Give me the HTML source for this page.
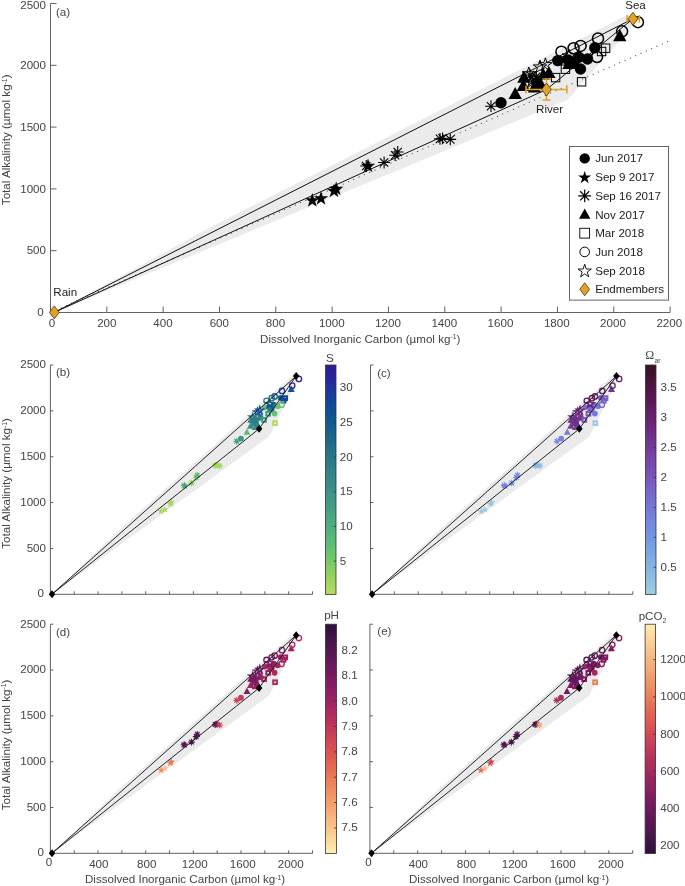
<!DOCTYPE html>
<html><head><meta charset="utf-8"><title>Figure</title>
<style>html,body{margin:0;padding:0;background:#fff}svg{display:block;will-change:transform}text{font-family:"Liberation Sans",sans-serif}</style></head>
<body>
<svg width="685" height="886" viewBox="0 0 685 886" font-family="Liberation Sans, sans-serif" font-size="11.6" fill="#444444">
<defs><linearGradient id="gb" x1="0" y1="1" x2="0" y2="0"><stop offset="0.000" stop-color="#b8db65"/><stop offset="0.042" stop-color="#a5d75d"/><stop offset="0.083" stop-color="#92d160"/><stop offset="0.125" stop-color="#80cc65"/><stop offset="0.167" stop-color="#6ec66b"/><stop offset="0.208" stop-color="#63be72"/><stop offset="0.250" stop-color="#58b778"/><stop offset="0.292" stop-color="#4faf7d"/><stop offset="0.333" stop-color="#49a781"/><stop offset="0.375" stop-color="#439f84"/><stop offset="0.417" stop-color="#3e9886"/><stop offset="0.458" stop-color="#3a9087"/><stop offset="0.500" stop-color="#358888"/><stop offset="0.542" stop-color="#308188"/><stop offset="0.583" stop-color="#2a7989"/><stop offset="0.625" stop-color="#24728a"/><stop offset="0.667" stop-color="#1c6a8b"/><stop offset="0.708" stop-color="#15628d"/><stop offset="0.750" stop-color="#115a90"/><stop offset="0.792" stop-color="#105195"/><stop offset="0.833" stop-color="#0f4899"/><stop offset="0.875" stop-color="#183b9b"/><stop offset="0.917" stop-color="#222e9e"/><stop offset="0.958" stop-color="#2a229c"/><stop offset="1.000" stop-color="#2a1e88"/></linearGradient><linearGradient id="gc" x1="0" y1="1" x2="0" y2="0"><stop offset="0.000" stop-color="#a1cce2"/><stop offset="0.042" stop-color="#95c4e2"/><stop offset="0.083" stop-color="#8bbce3"/><stop offset="0.125" stop-color="#81b4e3"/><stop offset="0.167" stop-color="#7caae3"/><stop offset="0.208" stop-color="#77a1e4"/><stop offset="0.250" stop-color="#7397e3"/><stop offset="0.292" stop-color="#748ce0"/><stop offset="0.333" stop-color="#7582de"/><stop offset="0.375" stop-color="#7678d8"/><stop offset="0.417" stop-color="#776ed1"/><stop offset="0.458" stop-color="#7864ca"/><stop offset="0.500" stop-color="#785ac0"/><stop offset="0.542" stop-color="#7750b6"/><stop offset="0.583" stop-color="#7647ab"/><stop offset="0.625" stop-color="#743e9e"/><stop offset="0.667" stop-color="#723591"/><stop offset="0.708" stop-color="#6e2d83"/><stop offset="0.750" stop-color="#692676"/><stop offset="0.792" stop-color="#641f68"/><stop offset="0.833" stop-color="#5c1b59"/><stop offset="0.875" stop-color="#55174b"/><stop offset="0.917" stop-color="#4c133e"/><stop offset="0.958" stop-color="#431133"/><stop offset="1.000" stop-color="#390f27"/></linearGradient><linearGradient id="gd" x1="0" y1="1" x2="0" y2="0"><stop offset="0.000" stop-color="#fdedb0"/><stop offset="0.042" stop-color="#fcdea2"/><stop offset="0.083" stop-color="#fad094"/><stop offset="0.125" stop-color="#f8c187"/><stop offset="0.167" stop-color="#f7b27b"/><stop offset="0.208" stop-color="#f4a471"/><stop offset="0.250" stop-color="#f29667"/><stop offset="0.292" stop-color="#ee875f"/><stop offset="0.333" stop-color="#ea7859"/><stop offset="0.375" stop-color="#e56954"/><stop offset="0.417" stop-color="#de5c53"/><stop offset="0.458" stop-color="#d74f53"/><stop offset="0.500" stop-color="#ce4456"/><stop offset="0.542" stop-color="#c4395a"/><stop offset="0.583" stop-color="#b8315c"/><stop offset="0.625" stop-color="#ab2a5f"/><stop offset="0.667" stop-color="#9e2461"/><stop offset="0.708" stop-color="#901f62"/><stop offset="0.750" stop-color="#821c62"/><stop offset="0.792" stop-color="#74195f"/><stop offset="0.833" stop-color="#66175b"/><stop offset="0.875" stop-color="#581655"/><stop offset="0.917" stop-color="#4a154e"/><stop offset="0.958" stop-color="#3c1246"/><stop offset="1.000" stop-color="#2f0f3d"/></linearGradient><linearGradient id="ge" x1="0" y1="1" x2="0" y2="0"><stop offset="0.000" stop-color="#2f0f3d"/><stop offset="0.042" stop-color="#3c1246"/><stop offset="0.083" stop-color="#4a154e"/><stop offset="0.125" stop-color="#581655"/><stop offset="0.167" stop-color="#66175b"/><stop offset="0.208" stop-color="#74195f"/><stop offset="0.250" stop-color="#821c62"/><stop offset="0.292" stop-color="#901f62"/><stop offset="0.333" stop-color="#9e2461"/><stop offset="0.375" stop-color="#ab2a5f"/><stop offset="0.417" stop-color="#b8315c"/><stop offset="0.458" stop-color="#c4395a"/><stop offset="0.500" stop-color="#ce4456"/><stop offset="0.542" stop-color="#d74f53"/><stop offset="0.583" stop-color="#de5c53"/><stop offset="0.625" stop-color="#e56954"/><stop offset="0.667" stop-color="#ea7859"/><stop offset="0.708" stop-color="#ee875f"/><stop offset="0.750" stop-color="#f29667"/><stop offset="0.792" stop-color="#f4a471"/><stop offset="0.833" stop-color="#f7b27b"/><stop offset="0.875" stop-color="#f8c187"/><stop offset="0.917" stop-color="#fad094"/><stop offset="0.958" stop-color="#fcdea2"/><stop offset="1.000" stop-color="#fdedb0"/></linearGradient></defs>
<rect width="685" height="886" fill="#fff"/>
<polygon points="54.3,312.4 210.0,227.5 627.0,15.3 639.3,18.8 567.3,100.0" fill="#ebebeb"/>
<line x1="50.5" y1="312.5" x2="670.1" y2="40.6" stroke="#333" stroke-width="1.1" stroke-linecap="round" stroke-dasharray="0.01 5.8"/>
<path d="M54.3,312.4 L632.9,18.8 M54.3,312.4 L546.5,89.5 L632.9,18.8" fill="none" stroke="#111" stroke-width="1.0"/>
<path d="M50.5,3.5 L50.5,312.5 L670.1,312.5" fill="none" stroke="#505050" stroke-width="0.9"/>
<path d="M50.50,312.5 v-6 M106.83,312.5 v-6 M163.15,312.5 v-6 M219.48,312.5 v-6 M275.81,312.5 v-6 M332.14,312.5 v-6 M388.46,312.5 v-6 M444.79,312.5 v-6 M501.12,312.5 v-6 M557.45,312.5 v-6 M613.77,312.5 v-6 M670.10,312.5 v-6 M50.5,312.50 h6 M50.5,250.70 h6 M50.5,188.90 h6 M50.5,127.10 h6 M50.5,65.30 h6 M50.5,3.50 h6 " stroke="#505050" stroke-width="0.9" fill="none"/>
<text x="52.1" y="327.3" text-anchor="middle">0</text>
<text x="106.8" y="327.3" text-anchor="middle">200</text>
<text x="163.0" y="327.3" text-anchor="middle">400</text>
<text x="219.3" y="327.3" text-anchor="middle">600</text>
<text x="275.5" y="327.3" text-anchor="middle">800</text>
<text x="331.8" y="327.3" text-anchor="middle">1000</text>
<text x="388.0" y="327.3" text-anchor="middle">1200</text>
<text x="444.3" y="327.3" text-anchor="middle">1400</text>
<text x="500.5" y="327.3" text-anchor="middle">1600</text>
<text x="556.8" y="327.3" text-anchor="middle">1800</text>
<text x="613.0" y="327.3" text-anchor="middle">2000</text>
<text x="669.3" y="327.3" text-anchor="middle">2200</text>
<text x="43.6" y="316.1" text-anchor="end">0</text>
<text x="46.0" y="254.3" text-anchor="end">500</text>
<text x="46.0" y="192.5" text-anchor="end">1000</text>
<text x="46.0" y="130.7" text-anchor="end">1500</text>
<text x="46.0" y="68.9" text-anchor="end">2000</text>
<text x="46.0" y="9.1" text-anchor="end">2500</text>
<text transform="translate(10.4,139.8) rotate(-90)" text-anchor="middle">Total Alkalinity (µmol kg<tspan font-size="6.8" dy="-3.6">-1</tspan><tspan dy="3.6">)</tspan></text>
<text x="360.2" y="342.6" text-anchor="middle">Dissolved Inorganic Carbon (µmol kg<tspan font-size="6.8" dy="-3.6">-1</tspan><tspan dy="3.6">)</tspan></text>
<text x="56.0" y="16.4">(a)</text>
<path d="M360.30,166.00 L372.10,166.00 M362.03,161.83 L370.37,170.17 M366.20,160.10 L366.20,171.90 M370.37,161.83 L362.03,170.17 " fill="none" stroke="#000" stroke-width="1.1"/>
<path d="M378.20,162.50 L390.00,162.50 M379.93,158.33 L388.27,166.67 M384.10,156.60 L384.10,168.40 M388.27,158.33 L379.93,166.67 " fill="none" stroke="#000" stroke-width="1.1"/>
<path d="M389.20,155.20 L401.00,155.20 M390.93,151.03 L399.27,159.37 M395.10,149.30 L395.10,161.10 M399.27,151.03 L390.93,159.37 " fill="none" stroke="#000" stroke-width="1.1"/>
<path d="M391.80,152.00 L403.60,152.00 M393.53,147.83 L401.87,156.17 M397.70,146.10 L397.70,157.90 M401.87,147.83 L393.53,156.17 " fill="none" stroke="#000" stroke-width="1.1"/>
<path d="M434.10,138.90 L445.90,138.90 M435.83,134.73 L444.17,143.07 M440.00,133.00 L440.00,144.80 M444.17,134.73 L435.83,143.07 " fill="none" stroke="#000" stroke-width="1.1"/>
<path d="M436.60,138.30 L448.40,138.30 M438.33,134.13 L446.67,142.47 M442.50,132.40 L442.50,144.20 M446.67,134.13 L438.33,142.47 " fill="none" stroke="#000" stroke-width="1.1"/>
<path d="M444.40,139.40 L456.20,139.40 M446.13,135.23 L454.47,143.57 M450.30,133.50 L450.30,145.30 M454.47,135.23 L446.13,143.57 " fill="none" stroke="#000" stroke-width="1.1"/>
<path d="M485.10,106.20 L496.90,106.20 M486.83,102.03 L495.17,110.37 M491.00,100.30 L491.00,112.10 M495.17,102.03 L486.83,110.37 " fill="none" stroke="#000" stroke-width="1.1"/>
<path d="M524.00,75.00 L535.80,75.00 M525.73,70.83 L534.07,79.17 M529.90,69.10 L529.90,80.90 M534.07,70.83 L525.73,79.17 " fill="none" stroke="#000" stroke-width="1.1"/>
<path d="M526.70,81.20 L538.50,81.20 M528.43,77.03 L536.77,85.37 M532.60,75.30 L532.60,87.10 M536.77,77.03 L528.43,85.37 " fill="none" stroke="#000" stroke-width="1.1"/>
<path d="M530.10,76.80 L541.90,76.80 M531.83,72.63 L540.17,80.97 M536.00,70.90 L536.00,82.70 M540.17,72.63 L531.83,80.97 " fill="none" stroke="#000" stroke-width="1.1"/>
<path d="M312.30,193.00L314.01,198.25L319.53,198.25L315.06,201.50L316.77,206.75L312.30,203.50L307.83,206.75L309.54,201.50L305.07,198.25L310.59,198.25Z" fill="#000"/>
<path d="M321.00,190.90L322.71,196.15L328.23,196.15L323.76,199.40L325.47,204.65L321.00,201.40L316.53,204.65L318.24,199.40L313.77,196.15L319.29,196.15Z" fill="#000"/>
<path d="M334.00,183.40L335.71,188.65L341.23,188.65L336.76,191.90L338.47,197.15L334.00,193.90L329.53,197.15L331.24,191.90L326.77,188.65L332.29,188.65Z" fill="#000"/>
<path d="M336.20,181.40L337.91,186.65L343.43,186.65L338.96,189.90L340.67,195.15L336.20,191.90L331.73,195.15L333.44,189.90L328.97,186.65L334.49,186.65Z" fill="#000"/>
<path d="M368.00,158.60L369.71,163.85L375.23,163.85L370.76,167.10L372.47,172.35L368.00,169.10L363.53,172.35L365.24,167.10L360.77,163.85L366.29,163.85Z" fill="#000"/>
<path d="M515.20,86.92 L521.85,99.12 L508.55,99.12 Z" fill="#000"/>
<path d="M523.90,70.52 L530.55,82.72 L517.25,82.72 Z" fill="#000"/>
<path d="M523.40,78.72 L530.05,90.92 L516.75,90.92 Z" fill="#000"/>
<path d="M543.30,67.92 L549.95,80.12 L536.65,80.12 Z" fill="#000"/>
<path d="M548.90,65.92 L555.55,78.12 L542.25,78.12 Z" fill="#000"/>
<path d="M541.00,77.92 L547.65,90.12 L534.35,90.12 Z" fill="#000"/>
<path d="M534.50,80.42 L541.15,92.62 L527.85,92.62 Z" fill="#000"/>
<path d="M537.50,74.92 L544.15,87.12 L530.85,87.12 Z" fill="#000"/>
<path d="M568.90,56.92 L575.55,69.12 L562.25,69.12 Z" fill="#000"/>
<path d="M619.80,29.12 L626.45,41.32 L613.15,41.32 Z" fill="#000"/>
<circle cx="501.00" cy="102.70" r="5.7" fill="#000"/>
<circle cx="557.80" cy="60.60" r="5.7" fill="#000"/>
<circle cx="578.80" cy="57.10" r="5.7" fill="#000"/>
<circle cx="587.50" cy="59.00" r="5.7" fill="#000"/>
<circle cx="580.50" cy="69.00" r="5.7" fill="#000"/>
<circle cx="573.80" cy="62.50" r="5.7" fill="#000"/>
<circle cx="594.80" cy="47.80" r="5.7" fill="#000"/>
<circle cx="568.00" cy="60.00" r="5.7" fill="#000"/>
<rect x="551.40" y="73.40" width="8.4" height="8.4" fill="none" stroke="#000" stroke-width="1"/>
<rect x="561.20" y="65.00" width="8.4" height="8.4" fill="none" stroke="#000" stroke-width="1"/>
<rect x="577.40" y="77.60" width="8.4" height="8.4" fill="none" stroke="#000" stroke-width="1"/>
<rect x="601.40" y="44.00" width="8.4" height="8.4" fill="none" stroke="#000" stroke-width="1"/>
<rect x="597.40" y="47.30" width="8.4" height="8.4" fill="none" stroke="#000" stroke-width="1"/>
<circle cx="637.90" cy="22.20" r="5.5" fill="none" stroke="#000" stroke-width="1.5"/>
<circle cx="622.10" cy="31.30" r="5.5" fill="none" stroke="#000" stroke-width="1.5"/>
<circle cx="598.00" cy="38.50" r="5.5" fill="none" stroke="#000" stroke-width="1.5"/>
<circle cx="580.60" cy="45.90" r="5.5" fill="none" stroke="#000" stroke-width="1.5"/>
<circle cx="573.60" cy="48.20" r="5.5" fill="none" stroke="#000" stroke-width="1.5"/>
<circle cx="561.40" cy="51.70" r="5.5" fill="none" stroke="#000" stroke-width="1.5"/>
<circle cx="597.00" cy="57.00" r="5.5" fill="none" stroke="#000" stroke-width="1.5"/>
<path d="M545.40,57.80L546.97,62.64L552.06,62.64L547.94,65.63L549.51,70.46L545.40,67.47L541.29,70.46L542.86,65.63L538.74,62.64L543.83,62.64Z" fill="none" stroke="#000" stroke-width="1"/>
<path d="M569.00,49.10L570.57,53.94L575.66,53.94L571.54,56.93L573.11,61.76L569.00,58.77L564.89,61.76L566.46,56.93L562.34,53.94L567.43,53.94Z" fill="none" stroke="#000" stroke-width="1"/>
<path d="M540.00,60.10L541.57,64.94L546.66,64.94L542.54,67.93L544.11,72.76L540.00,69.77L535.89,72.76L537.46,67.93L533.34,64.94L538.43,64.94Z" fill="none" stroke="#000" stroke-width="1"/>
<path d="M528.80,67.00L530.37,71.84L535.46,71.84L531.34,74.83L532.91,79.66L528.80,76.67L524.69,79.66L526.26,74.83L522.14,71.84L527.23,71.84Z" fill="none" stroke="#000" stroke-width="1"/>
<path d="M531.60,75.00L533.17,79.84L538.26,79.84L534.14,82.83L535.71,87.66L531.60,84.67L527.49,87.66L529.06,82.83L524.94,79.84L530.03,79.84Z" fill="none" stroke="#000" stroke-width="1"/>
<path d="M535.50,71.00L537.07,75.84L542.16,75.84L538.04,78.83L539.61,83.66L535.50,80.67L531.39,83.66L532.96,78.83L528.84,75.84L533.93,75.84Z" fill="none" stroke="#000" stroke-width="1"/>
<path d="M627.0,18.8 L639.3,18.8 M627.0,14.9 v7.8 M639.3,14.9 v7.8 " fill="none" stroke="#e2a227" stroke-width="1.5"/>
<path d="M526.0,89.5 L566.9,89.5 M526.0,85.4 v8.2 M566.9,85.4 v8.2 M546.5,79.1 L546.5,99.9 M542.4,79.1 h8.2 M542.4,99.9 h8.2 " fill="none" stroke="#e2a227" stroke-width="1.5"/>
<path d="M632.90,12.30 L637.80,18.80 L632.90,25.30 L628.00,18.80 Z" fill="#e2a227" stroke="#4a3a12" stroke-width="0.8"/>
<path d="M546.50,83.00 L551.40,89.50 L546.50,96.00 L541.60,89.50 Z" fill="#e2a227" stroke="#4a3a12" stroke-width="0.8"/>
<path d="M54.30,305.90 L59.20,312.40 L54.30,318.90 L49.40,312.40 Z" fill="#e2a227" stroke="#4a3a12" stroke-width="0.8"/>
<text x="635.5" y="8.6" text-anchor="middle" fill="#222">Sea</text>
<text x="549.6" y="112.6" text-anchor="middle" fill="#222">River</text>
<text x="53.3" y="296.3" fill="#222">Rain</text>
<rect x="569.5" y="146.5" width="99" height="153.6" fill="#fff" stroke="#555" stroke-width="0.9"/>
<circle cx="584.7" cy="158.4" r="5.2" fill="#000"/>
<text x="595.2" y="162.4" fill="#1c1c1c">Jun 2017</text>
<path d="M584.70,170.90L586.23,175.60L591.17,175.60L587.17,178.50L588.70,183.20L584.70,180.30L580.70,183.20L582.23,178.50L578.23,175.60L583.17,175.60Z" fill="#000"/>
<text x="595.2" y="181.1" fill="#1c1c1c">Sep 9 2017</text>
<path d="M578.30,195.80 L591.10,195.80 M580.17,191.27 L589.23,200.33 M584.70,189.40 L584.70,202.20 M589.23,191.27 L580.17,200.33 " fill="none" stroke="#000" stroke-width="1.2"/>
<text x="595.2" y="199.8" fill="#1c1c1c">Sep 16 2017</text>
<path d="M584.70,208.47 L590.40,218.87 L579.00,218.87 Z" fill="#000"/>
<text x="595.2" y="218.5" fill="#1c1c1c">Nov 2017</text>
<rect x="579.8" y="228.3" width="9.8" height="9.8" fill="none" stroke="#000" stroke-width="0.9"/>
<text x="595.2" y="237.2" fill="#1c1c1c">Mar 2018</text>
<circle cx="584.7" cy="251.9" r="4.8" fill="none" stroke="#000" stroke-width="1"/>
<text x="595.2" y="255.9" fill="#1c1c1c">Jun 2018</text>
<path d="M584.70,264.20L586.27,269.04L591.36,269.04L587.24,272.03L588.81,276.86L584.70,273.87L580.59,276.86L582.16,272.03L578.04,269.04L583.13,269.04Z" fill="none" stroke="#000" stroke-width="0.9"/>
<text x="595.2" y="274.6" fill="#1c1c1c">Sep 2018</text>
<path d="M584.70,282.80 L589.60,289.30 L584.70,295.80 L579.80,289.30 Z" fill="#e2a227" stroke="#4a3a12" stroke-width="0.8"/>
<text x="595.2" y="293.3" fill="#1c1c1c">Endmembers</text>
<polygon points="52.0,594.2 117.9,531.2 294.3,373.8 299.5,376.4 269.0,436.6" fill="#ebebeb"/>
<path d="M50.4,365.0 L50.4,594.3 L312.5,594.3" fill="none" stroke="#505050" stroke-width="0.9"/>
<path d="M50.40,594.3 v-3 M74.23,594.3 v-3 M98.05,594.3 v-3 M121.88,594.3 v-3 M145.71,594.3 v-3 M169.54,594.3 v-3 M193.36,594.3 v-3 M217.19,594.3 v-3 M241.02,594.3 v-3 M264.85,594.3 v-3 M288.67,594.3 v-3 M312.50,594.3 v-3 M50.4,594.30 h3 M50.4,548.44 h3 M50.4,502.58 h3 M50.4,456.72 h3 M50.4,410.86 h3 M50.4,365.00 h3 " stroke="#505050" stroke-width="0.9" fill="none"/>
<text x="44.0" y="597.1" text-anchor="end">0</text>
<text x="46.0" y="551.8" text-anchor="end">500</text>
<text x="46.0" y="506.0" text-anchor="end">1000</text>
<text x="46.0" y="460.1" text-anchor="end">1500</text>
<text x="46.0" y="414.3" text-anchor="end">2000</text>
<text x="46.0" y="368.4" text-anchor="end">2500</text>
<text transform="translate(10.4,483.4) rotate(-90)" text-anchor="middle">Total Alkalinity (µmol kg<tspan font-size="6.8" dy="-3.6">-1</tspan><tspan dy="3.6">)</tspan></text>
<text x="56.0" y="376.3">(b)</text>
<path d="M180.65,485.59 L187.25,485.59 M181.61,483.25 L186.28,487.92 M183.95,482.29 L183.95,488.89 M186.28,483.25 L181.61,487.92 " fill="none" stroke="#78c968" stroke-width="1.1"/>
<path d="M188.22,482.99 L194.82,482.99 M189.18,480.66 L193.85,485.32 M191.52,479.69 L191.52,486.29 M193.85,480.66 L189.18,485.32 " fill="none" stroke="#8bcf62" stroke-width="1.1"/>
<path d="M192.87,477.57 L199.47,477.57 M193.84,475.24 L198.50,479.91 M196.17,474.27 L196.17,480.87 M198.50,475.24 L193.84,479.91 " fill="none" stroke="#85cd64" stroke-width="1.1"/>
<path d="M193.97,475.20 L200.57,475.20 M194.94,472.86 L199.60,477.53 M197.27,471.90 L197.27,478.50 M199.60,472.86 L194.94,477.53 " fill="none" stroke="#59b778" stroke-width="1.1"/>
<path d="M211.86,465.48 L218.46,465.48 M212.83,463.14 L217.50,467.81 M215.16,462.18 L215.16,468.78 M217.50,463.14 L212.83,467.81 " fill="none" stroke="#a6d75d" stroke-width="1.1"/>
<path d="M212.92,465.03 L219.52,465.03 M213.89,462.70 L218.56,467.36 M216.22,461.73 L216.22,468.33 M218.56,462.70 L213.89,467.36 " fill="none" stroke="#a6d75d" stroke-width="1.1"/>
<path d="M216.22,465.85 L222.82,465.85 M217.19,463.51 L221.85,468.18 M219.52,462.55 L219.52,469.15 M221.85,463.51 L217.19,468.18 " fill="none" stroke="#a6d75d" stroke-width="1.1"/>
<path d="M233.44,441.21 L240.04,441.21 M234.40,438.88 L239.07,443.54 M236.74,437.91 L236.74,444.51 M239.07,438.88 L234.40,443.54 " fill="none" stroke="#429d84" stroke-width="1.1"/>
<path d="M249.89,418.06 L256.49,418.06 M250.86,415.72 L255.53,420.39 M253.19,414.76 L253.19,421.36 M255.53,415.72 L250.86,420.39 " fill="none" stroke="#378c87" stroke-width="1.1"/>
<path d="M251.04,422.66 L257.64,422.66 M252.00,420.33 L256.67,424.99 M254.34,419.36 L254.34,425.96 M256.67,420.33 L252.00,424.99 " fill="none" stroke="#378c87" stroke-width="1.1"/>
<path d="M252.47,419.39 L259.07,419.39 M253.44,417.06 L258.11,421.73 M255.77,416.09 L255.77,422.69 M258.11,417.06 L253.44,421.73 " fill="none" stroke="#348788" stroke-width="1.1"/>
<path d="M161.15,507.19L162.04,509.96L164.95,509.96L162.60,511.66L163.50,514.43L161.15,512.72L158.79,514.43L159.69,511.66L157.34,509.96L160.25,509.96Z" fill="#add960"/>
<path d="M164.83,505.63L165.72,508.40L168.63,508.40L166.28,510.11L167.18,512.87L164.83,511.16L162.47,512.87L163.37,510.11L161.02,508.40L163.93,508.40Z" fill="#add960"/>
<path d="M170.32,500.07L171.22,502.83L174.13,502.83L171.78,504.54L172.68,507.30L170.32,505.60L167.97,507.30L168.87,504.54L166.52,502.83L169.43,502.83Z" fill="#a6d75d"/>
<path d="M171.26,498.58L172.15,501.35L175.06,501.35L172.71,503.06L173.61,505.82L171.26,504.11L168.90,505.82L169.80,503.06L167.45,501.35L170.36,501.35Z" fill="#a6d75d"/>
<path d="M184.71,481.66L185.61,484.43L188.51,484.43L186.16,486.14L187.06,488.90L184.71,487.19L182.36,488.90L183.25,486.14L180.90,484.43L183.81,484.43Z" fill="#429e84"/>
<path d="M246.98,428.45 L250.48,434.85 L243.48,434.85 Z" fill="#5cb976"/>
<path d="M250.66,416.28 L254.16,422.68 L247.16,422.68 Z" fill="#3b9287"/>
<path d="M250.44,422.36 L253.94,428.76 L246.94,428.76 Z" fill="#3b9287"/>
<path d="M258.86,414.35 L262.36,420.75 L255.36,420.75 Z" fill="#378c87"/>
<path d="M261.23,412.86 L264.73,419.26 L257.73,419.26 Z" fill="#348788"/>
<path d="M257.89,421.77 L261.39,428.17 L254.39,428.17 Z" fill="#378c87"/>
<path d="M255.14,423.62 L258.64,430.02 L251.64,430.02 Z" fill="#3b9287"/>
<path d="M256.41,419.54 L259.91,425.94 L252.91,425.94 Z" fill="#378c87"/>
<path d="M269.69,406.18 L273.19,412.58 L266.19,412.58 Z" fill="#348788"/>
<path d="M291.22,385.55 L294.72,391.95 L287.72,391.95 Z" fill="#115393"/>
<circle cx="240.97" cy="438.61" r="2.9" fill="#3e9886"/>
<circle cx="265.00" cy="407.37" r="2.9" fill="#68c16f"/>
<circle cx="273.88" cy="404.78" r="2.9" fill="#1e6b8b"/>
<circle cx="277.56" cy="406.18" r="2.9" fill="#68c16f"/>
<circle cx="274.60" cy="413.61" r="2.9" fill="#68c16f"/>
<circle cx="271.76" cy="408.78" r="2.9" fill="#287789"/>
<circle cx="280.65" cy="397.87" r="2.9" fill="#14608e"/>
<circle cx="269.31" cy="406.93" r="2.9" fill="#23718a"/>
<rect x="262.21" y="418.14" width="3.7" height="3.7" fill="none" stroke="#429d84" stroke-width="2.0"/>
<rect x="266.36" y="411.90" width="3.7" height="3.7" fill="none" stroke="#3e9886" stroke-width="2.0"/>
<rect x="273.21" y="421.25" width="3.7" height="3.7" fill="none" stroke="#b7db64" stroke-width="2.0"/>
<rect x="283.37" y="396.32" width="3.7" height="3.7" fill="none" stroke="#14419a" stroke-width="2.0"/>
<rect x="281.67" y="398.77" width="3.7" height="3.7" fill="none" stroke="#114699" stroke-width="2.0"/>
<circle cx="298.88" cy="378.88" r="2.7" fill="none" stroke="#2a229b" stroke-width="1.3"/>
<circle cx="292.20" cy="385.63" r="2.7" fill="none" stroke="#252a9d" stroke-width="1.3"/>
<circle cx="282.00" cy="390.97" r="2.7" fill="none" stroke="#173c9b" stroke-width="1.3"/>
<circle cx="274.64" cy="396.46" r="2.7" fill="none" stroke="#14608e" stroke-width="1.3"/>
<circle cx="271.68" cy="398.17" r="2.7" fill="none" stroke="#1e6b8b" stroke-width="1.3"/>
<circle cx="266.52" cy="400.77" r="2.7" fill="none" stroke="#2c7c89" stroke-width="1.3"/>
<circle cx="281.58" cy="404.70" r="2.7" fill="none" stroke="#64bf71" stroke-width="1.3"/>
<path d="M259.75,406.22L260.69,409.12L263.74,409.12L261.28,410.91L262.22,413.82L259.75,412.02L257.28,413.82L258.22,410.91L255.76,409.12L258.81,409.12Z" fill="none" stroke="#115393" stroke-width="1.2"/>
<path d="M269.73,399.76L270.68,402.66L273.73,402.66L271.26,404.46L272.20,407.36L269.73,405.57L267.26,407.36L268.21,404.46L265.74,402.66L268.79,402.66Z" fill="none" stroke="#115393" stroke-width="1.2"/>
<path d="M257.47,407.92L258.41,410.83L261.46,410.83L258.99,412.62L259.93,415.52L257.47,413.73L255.00,415.52L255.94,412.62L253.47,410.83L256.52,410.83Z" fill="none" stroke="#115393" stroke-width="1.2"/>
<path d="M252.73,413.04L253.67,415.95L256.72,415.95L254.25,417.74L255.20,420.64L252.73,418.85L250.26,420.64L251.20,417.74L248.73,415.95L251.78,415.95Z" fill="none" stroke="#308188" stroke-width="1.2"/>
<path d="M253.91,418.98L254.86,421.88L257.91,421.88L255.44,423.68L256.38,426.58L253.91,424.79L251.44,426.58L252.39,423.68L249.92,421.88L252.97,421.88Z" fill="none" stroke="#308188" stroke-width="1.2"/>
<path d="M255.56,416.01L256.51,418.92L259.56,418.92L257.09,420.71L258.03,423.61L255.56,421.82L253.09,423.61L254.04,420.71L251.57,418.92L254.62,418.92Z" fill="none" stroke="#2c7c89" stroke-width="1.2"/>
<path d="M52.0,594.2 L296.2,376.1 M52.0,594.2 L259.1,428.8 L296.2,376.1" fill="none" stroke="#1a1a1a" stroke-width="0.95"/>
<path d="M52.01,590.23 L55.26,594.23 L52.01,598.23 L48.76,594.23 Z" fill="#000"/>
<path d="M296.16,372.05 L299.41,376.05 L296.16,380.05 L292.91,376.05 Z" fill="#000"/>
<path d="M259.12,424.82 L262.37,428.82 L259.12,432.82 L255.87,428.82 Z" fill="#000"/>
<rect x="325.5" y="365.0" width="10.5" height="229.5" fill="url(#gb)" stroke="#333" stroke-width="0.8"/>
<text x="339.7" y="564.5">5</text>
<text x="339.7" y="529.9">10</text>
<text x="339.7" y="495.2">15</text>
<text x="339.7" y="460.6">20</text>
<text x="339.7" y="425.9">25</text>
<text x="339.7" y="391.3">30</text>
<path d="M336.0,561.11 h-2.4 M336.0,526.46 h-2.4 M336.0,491.81 h-2.4 M336.0,457.16 h-2.4 M336.0,422.52 h-2.4 M336.0,387.87 h-2.4 " stroke="#333" stroke-width="0.8" fill="none"/>
<text x="329.8" y="361.9" text-anchor="middle">S</text>
<polygon points="372.1,594.2 438.0,531.2 614.6,373.8 619.8,376.4 589.3,436.6" fill="#ebebeb"/>
<path d="M370.5,365.0 L370.5,594.3 L632.8,594.3" fill="none" stroke="#505050" stroke-width="0.9"/>
<path d="M370.50,594.3 v-3 M394.35,594.3 v-3 M418.19,594.3 v-3 M442.04,594.3 v-3 M465.88,594.3 v-3 M489.73,594.3 v-3 M513.57,594.3 v-3 M537.42,594.3 v-3 M561.26,594.3 v-3 M585.11,594.3 v-3 M608.95,594.3 v-3 M632.80,594.3 v-3 M370.5,594.30 h3 M370.5,548.44 h3 M370.5,502.58 h3 M370.5,456.72 h3 M370.5,410.86 h3 M370.5,365.00 h3 " stroke="#505050" stroke-width="0.9" fill="none"/>
<text x="377.2" y="376.7">(c)</text>
<path d="M500.85,485.59 L507.45,485.59 M501.81,483.25 L506.48,487.92 M504.15,482.29 L504.15,488.89 M506.48,483.25 L501.81,487.92 " fill="none" stroke="#7491e2" stroke-width="1.1"/>
<path d="M508.43,482.99 L515.03,482.99 M509.39,480.66 L514.06,485.32 M511.73,479.69 L511.73,486.29 M514.06,480.66 L509.39,485.32 " fill="none" stroke="#7491e2" stroke-width="1.1"/>
<path d="M513.08,477.57 L519.68,477.57 M514.05,475.24 L518.72,479.91 M516.38,474.27 L516.38,480.87 M518.72,475.24 L514.05,479.91 " fill="none" stroke="#748ae0" stroke-width="1.1"/>
<path d="M514.18,475.20 L520.78,475.20 M515.15,472.86 L519.82,477.53 M517.48,471.90 L517.48,478.50 M519.82,472.86 L515.15,477.53 " fill="none" stroke="#748ae0" stroke-width="1.1"/>
<path d="M532.09,465.48 L538.69,465.48 M533.06,463.14 L537.72,467.81 M535.39,462.18 L535.39,468.78 M537.72,463.14 L533.06,467.81 " fill="none" stroke="#89bae3" stroke-width="1.1"/>
<path d="M533.15,465.03 L539.75,465.03 M534.11,462.70 L538.78,467.36 M536.45,461.73 L536.45,468.33 M538.78,462.70 L534.11,467.36 " fill="none" stroke="#89bae3" stroke-width="1.1"/>
<path d="M536.45,465.85 L543.05,465.85 M537.42,463.51 L542.08,468.18 M539.75,462.55 L539.75,469.15 M542.08,463.51 L537.42,468.18 " fill="none" stroke="#8cbde3" stroke-width="1.1"/>
<path d="M553.68,441.21 L560.28,441.21 M554.65,438.88 L559.31,443.54 M556.98,437.91 L556.98,444.51 M559.31,438.88 L554.65,443.54 " fill="none" stroke="#748ae0" stroke-width="1.1"/>
<path d="M570.15,418.06 L576.75,418.06 M571.11,415.72 L575.78,420.39 M573.45,414.76 L573.45,421.36 M575.78,415.72 L571.11,420.39 " fill="none" stroke="#7540a1" stroke-width="1.1"/>
<path d="M571.29,422.66 L577.89,422.66 M572.26,420.33 L576.92,424.99 M574.59,419.36 L574.59,425.96 M576.92,420.33 L572.26,424.99 " fill="none" stroke="#7540a1" stroke-width="1.1"/>
<path d="M572.73,419.39 L579.33,419.39 M573.70,417.06 L578.36,421.73 M576.03,416.09 L576.03,422.69 M578.36,417.06 L573.70,421.73 " fill="none" stroke="#733a99" stroke-width="1.1"/>
<path d="M481.33,507.19L482.23,509.96L485.13,509.96L482.78,511.66L483.68,514.43L481.33,512.72L478.98,514.43L479.88,511.66L477.53,509.96L480.43,509.96Z" fill="#9cc8e2"/>
<path d="M485.01,505.63L485.91,508.40L488.82,508.40L486.47,510.11L487.36,512.87L485.01,511.16L482.66,512.87L483.56,510.11L481.21,508.40L484.11,508.40Z" fill="#9dc9e2"/>
<path d="M490.52,500.07L491.41,502.83L494.32,502.83L491.97,504.54L492.87,507.30L490.52,505.60L488.17,507.30L489.06,504.54L486.71,502.83L489.62,502.83Z" fill="#9ac7e2"/>
<path d="M491.45,498.58L492.35,501.35L495.25,501.35L492.90,503.06L493.80,505.82L491.45,504.11L489.10,505.82L489.99,503.06L487.64,501.35L490.55,501.35Z" fill="#97c5e2"/>
<path d="M504.91,481.66L505.81,484.43L508.71,484.43L506.36,486.14L507.26,488.90L504.91,487.19L502.56,488.90L503.46,486.14L501.11,484.43L504.01,484.43Z" fill="#757edb"/>
<path d="M567.23,428.45 L570.73,434.85 L563.73,434.85 Z" fill="#757edb"/>
<path d="M570.91,416.28 L574.41,422.68 L567.41,422.68 Z" fill="#733a99"/>
<path d="M570.70,422.36 L574.20,428.76 L567.20,428.76 Z" fill="#7540a1"/>
<path d="M579.12,414.35 L582.62,420.75 L575.62,420.75 Z" fill="#733a99"/>
<path d="M581.49,412.86 L584.99,419.26 L577.99,419.26 Z" fill="#733a99"/>
<path d="M578.15,421.77 L581.65,428.17 L574.65,428.17 Z" fill="#733a99"/>
<path d="M575.40,423.62 L578.90,430.02 L571.90,430.02 Z" fill="#7540a1"/>
<path d="M576.67,419.54 L580.17,425.94 L573.17,425.94 Z" fill="#733a99"/>
<path d="M589.96,406.18 L593.46,412.58 L586.46,412.58 Z" fill="#733a99"/>
<path d="M611.51,385.55 L615.01,391.95 L608.01,391.95 Z" fill="#723591"/>
<circle cx="561.21" cy="438.61" r="2.9" fill="#7584de"/>
<circle cx="585.26" cy="407.37" r="2.9" fill="#7677d8"/>
<circle cx="594.15" cy="404.78" r="2.9" fill="#776acf"/>
<circle cx="597.83" cy="406.18" r="2.9" fill="#7677d8"/>
<circle cx="594.87" cy="413.61" r="2.9" fill="#7677d8"/>
<circle cx="592.03" cy="408.78" r="2.9" fill="#776acf"/>
<circle cx="600.92" cy="397.87" r="2.9" fill="#7858bd"/>
<circle cx="589.58" cy="406.93" r="2.9" fill="#776acf"/>
<rect x="582.48" y="418.14" width="3.7" height="3.7" fill="none" stroke="#7858bd" stroke-width="2.0"/>
<rect x="586.63" y="411.90" width="3.7" height="3.7" fill="none" stroke="#7858bd" stroke-width="2.0"/>
<rect x="593.48" y="421.25" width="3.7" height="3.7" fill="none" stroke="#9dc9e2" stroke-width="2.0"/>
<rect x="603.64" y="396.32" width="3.7" height="3.7" fill="none" stroke="#785ec4" stroke-width="2.0"/>
<rect x="601.95" y="398.77" width="3.7" height="3.7" fill="none" stroke="#785ec4" stroke-width="2.0"/>
<circle cx="619.17" cy="378.88" r="2.7" fill="none" stroke="#66226e" stroke-width="1.3"/>
<circle cx="612.48" cy="385.63" r="2.7" fill="none" stroke="#66226e" stroke-width="1.3"/>
<circle cx="602.28" cy="390.97" r="2.7" fill="none" stroke="#631e66" stroke-width="1.3"/>
<circle cx="594.91" cy="396.46" r="2.7" fill="none" stroke="#5e1c5d" stroke-width="1.3"/>
<circle cx="591.95" cy="398.17" r="2.7" fill="none" stroke="#5e1c5d" stroke-width="1.3"/>
<circle cx="586.78" cy="400.77" r="2.7" fill="none" stroke="#5e1c5d" stroke-width="1.3"/>
<circle cx="601.85" cy="404.70" r="2.7" fill="none" stroke="#7864ca" stroke-width="1.3"/>
<path d="M580.01,406.22L580.95,409.12L584.00,409.12L581.54,410.91L582.48,413.82L580.01,412.02L577.54,413.82L578.48,410.91L576.02,409.12L579.07,409.12Z" fill="none" stroke="#692777" stroke-width="1.2"/>
<path d="M590.00,399.76L590.94,402.66L594.00,402.66L591.53,404.46L592.47,407.36L590.00,405.57L587.53,407.36L588.47,404.46L586.01,402.66L589.06,402.66Z" fill="none" stroke="#66226e" stroke-width="1.2"/>
<path d="M577.72,407.92L578.67,410.83L581.72,410.83L579.25,412.62L580.19,415.52L577.72,413.73L575.26,415.52L576.20,412.62L573.73,410.83L576.78,410.83Z" fill="none" stroke="#692777" stroke-width="1.2"/>
<path d="M572.98,413.04L573.93,415.95L576.98,415.95L574.51,417.74L575.45,420.64L572.98,418.85L570.51,420.64L571.46,417.74L568.99,415.95L572.04,415.95Z" fill="none" stroke="#6f3088" stroke-width="1.2"/>
<path d="M574.17,418.98L575.11,421.88L578.16,421.88L575.69,423.68L576.64,426.58L574.17,424.79L571.70,426.58L572.64,423.68L570.17,421.88L573.22,421.88Z" fill="none" stroke="#6f3088" stroke-width="1.2"/>
<path d="M575.82,416.01L576.76,418.92L579.81,418.92L577.34,420.71L578.29,423.61L575.82,421.82L573.35,423.61L574.29,420.71L571.82,418.92L574.88,418.92Z" fill="none" stroke="#6f3088" stroke-width="1.2"/>
<path d="M372.1,594.2 L616.5,376.1 M372.1,594.2 L579.4,428.8 L616.5,376.1" fill="none" stroke="#1a1a1a" stroke-width="0.95"/>
<path d="M372.11,590.23 L375.36,594.23 L372.11,598.23 L368.86,594.23 Z" fill="#000"/>
<path d="M616.45,372.05 L619.70,376.05 L616.45,380.05 L613.20,376.05 Z" fill="#000"/>
<path d="M579.38,424.82 L582.63,428.82 L579.38,432.82 L576.13,428.82 Z" fill="#000"/>
<rect x="645.5" y="365.0" width="10.5" height="229.5" fill="url(#gc)" stroke="#333" stroke-width="0.8"/>
<text x="660.6" y="570.7">0.5</text>
<text x="660.6" y="540.7">1</text>
<text x="660.6" y="510.8">1.5</text>
<text x="660.6" y="480.8">2</text>
<text x="660.6" y="450.8">2.5</text>
<text x="660.6" y="420.9">3</text>
<text x="660.6" y="390.9">3.5</text>
<path d="M656.0,567.32 h-2.4 M656.0,537.35 h-2.4 M656.0,507.38 h-2.4 M656.0,477.40 h-2.4 M656.0,447.43 h-2.4 M656.0,417.45 h-2.4 M656.0,387.48 h-2.4 " stroke="#333" stroke-width="0.8" fill="none"/>
<text x="645.2" y="359.1" font-family="Liberation Serif, serif" font-size="12" style="font-family:Liberation Serif,serif">Ω</text><text x="654.4" y="362.5" font-size="6.8">ar</text>
<polygon points="52.0,853.2 117.9,790.3 294.3,632.9 299.5,635.5 269.0,695.7" fill="#ebebeb"/>
<path d="M50.4,624.2 L50.4,853.3 L312.5,853.3" fill="none" stroke="#505050" stroke-width="0.9"/>
<path d="M50.40,853.3 v-3 M74.23,853.3 v-3 M98.05,853.3 v-3 M121.88,853.3 v-3 M145.71,853.3 v-3 M169.54,853.3 v-3 M193.36,853.3 v-3 M217.19,853.3 v-3 M241.02,853.3 v-3 M264.85,853.3 v-3 M288.67,853.3 v-3 M312.50,853.3 v-3 M50.4,853.30 h3 M50.4,807.48 h3 M50.4,761.66 h3 M50.4,715.84 h3 M50.4,670.02 h3 M50.4,624.20 h3 " stroke="#505050" stroke-width="0.9" fill="none"/>
<text x="48.9" y="866.2" text-anchor="middle">0</text>
<text x="98.8" y="867.5" text-anchor="middle">400</text>
<text x="146.7" y="867.5" text-anchor="middle">800</text>
<text x="194.7" y="867.5" text-anchor="middle">1200</text>
<text x="242.7" y="867.5" text-anchor="middle">1600</text>
<text x="290.7" y="867.5" text-anchor="middle">2000</text>
<text x="185.1" y="883.1" text-anchor="middle">Dissolved Inorganic Carbon (µmol kg<tspan font-size="6.8" dy="-3.6">-1</tspan><tspan dy="3.6">)</tspan></text>
<text x="44.0" y="856.1" text-anchor="end">0</text>
<text x="46.0" y="810.9" text-anchor="end">500</text>
<text x="46.0" y="765.1" text-anchor="end">1000</text>
<text x="46.0" y="719.2" text-anchor="end">1500</text>
<text x="46.0" y="673.4" text-anchor="end">2000</text>
<text x="46.0" y="627.6" text-anchor="end">2500</text>
<text transform="translate(9.5,745.0) rotate(-90)" text-anchor="middle">Total Alkalinity (µmol kg<tspan font-size="6.8" dy="-3.6">-1</tspan><tspan dy="3.6">)</tspan></text>
<text x="56.0" y="635.5">(d)</text>
<path d="M180.65,744.68 L187.25,744.68 M181.61,742.35 L186.28,747.01 M183.95,741.38 L183.95,747.98 M186.28,742.35 L181.61,747.01 " fill="none" stroke="#5b1656" stroke-width="1.1"/>
<path d="M188.22,742.09 L194.82,742.09 M189.18,739.75 L193.85,744.42 M191.52,738.79 L191.52,745.39 M193.85,739.75 L189.18,744.42 " fill="none" stroke="#541653" stroke-width="1.1"/>
<path d="M192.87,736.67 L199.47,736.67 M193.84,734.34 L198.50,739.01 M196.17,733.37 L196.17,739.97 M198.50,734.34 L193.84,739.01 " fill="none" stroke="#4c1550" stroke-width="1.1"/>
<path d="M193.97,734.30 L200.57,734.30 M194.94,731.97 L199.60,736.63 M197.27,731.00 L197.27,737.60 M199.60,731.97 L194.94,736.63 " fill="none" stroke="#4c1550" stroke-width="1.1"/>
<path d="M211.86,724.59 L218.46,724.59 M212.83,722.26 L217.50,726.92 M215.16,721.29 L215.16,727.89 M217.50,722.26 L212.83,726.92 " fill="none" stroke="#541653" stroke-width="1.1"/>
<path d="M212.92,724.14 L219.52,724.14 M213.89,721.81 L218.56,726.48 M216.22,720.84 L216.22,727.44 M218.56,721.81 L213.89,726.48 " fill="none" stroke="#67185b" stroke-width="1.1"/>
<path d="M216.22,724.96 L222.82,724.96 M217.19,722.63 L221.85,727.29 M219.52,721.66 L219.52,728.26 M221.85,722.63 L217.19,727.29 " fill="none" stroke="#ce4456" stroke-width="1.1"/>
<path d="M233.44,700.34 L240.04,700.34 M234.40,698.01 L239.07,702.68 M236.74,697.04 L236.74,703.64 M239.07,698.01 L234.40,702.68 " fill="none" stroke="#ce4456" stroke-width="1.1"/>
<path d="M249.89,677.21 L256.49,677.21 M250.86,674.88 L255.53,679.55 M253.19,673.91 L253.19,680.51 M255.53,674.88 L250.86,679.55 " fill="none" stroke="#8c1e62" stroke-width="1.1"/>
<path d="M251.04,681.81 L257.64,681.81 M252.00,679.48 L256.67,684.14 M254.34,678.51 L254.34,685.11 M256.67,679.48 L252.00,684.14 " fill="none" stroke="#8c1e62" stroke-width="1.1"/>
<path d="M252.47,678.55 L259.07,678.55 M253.44,676.21 L258.11,680.88 M255.77,675.25 L255.77,681.85 M258.11,676.21 L253.44,680.88 " fill="none" stroke="#8c1e62" stroke-width="1.1"/>
<path d="M161.15,766.26L162.04,769.03L164.95,769.03L162.60,770.74L163.50,773.50L161.15,771.79L158.79,773.50L159.69,770.74L157.34,769.03L160.25,769.03Z" fill="#ef8c62"/>
<path d="M164.83,764.71L165.72,767.47L168.63,767.47L166.28,769.18L167.18,771.94L164.83,770.23L162.47,771.94L163.37,769.18L161.02,767.47L163.93,767.47Z" fill="#f8be85"/>
<path d="M170.32,759.15L171.22,761.91L174.13,761.91L171.78,763.62L172.68,766.38L170.32,764.67L167.97,766.38L168.87,763.62L166.52,761.91L169.43,761.91Z" fill="#ec805c"/>
<path d="M171.26,757.66L172.15,760.43L175.06,760.43L172.71,762.14L173.61,764.90L171.26,763.19L168.90,764.90L169.80,762.14L167.45,760.43L170.36,760.43Z" fill="#ea7859"/>
<path d="M184.71,740.76L185.61,743.52L188.51,743.52L186.16,745.23L187.06,748.00L184.71,746.29L182.36,748.00L183.25,745.23L180.90,743.52L183.81,743.52Z" fill="#541653"/>
<path d="M246.98,687.59 L250.48,693.99 L243.48,693.99 Z" fill="#811c61"/>
<path d="M250.66,675.43 L254.16,681.83 L247.16,681.83 Z" fill="#972262"/>
<path d="M250.44,681.51 L253.94,687.91 L246.94,687.91 Z" fill="#9f2561"/>
<path d="M258.86,673.50 L262.36,679.90 L255.36,679.90 Z" fill="#a62860"/>
<path d="M261.23,672.02 L264.73,678.42 L257.73,678.42 Z" fill="#a62860"/>
<path d="M257.89,680.91 L261.39,687.31 L254.39,687.31 Z" fill="#a62860"/>
<path d="M255.14,682.77 L258.64,689.17 L251.64,689.17 Z" fill="#9f2561"/>
<path d="M256.41,678.69 L259.91,685.09 L252.91,685.09 Z" fill="#9f2561"/>
<path d="M269.69,665.34 L273.19,671.74 L266.19,671.74 Z" fill="#9f2561"/>
<path d="M291.22,644.73 L294.72,651.13 L287.72,651.13 Z" fill="#9f2561"/>
<circle cx="240.97" cy="697.75" r="2.9" fill="#c63c59"/>
<circle cx="265.00" cy="666.54" r="2.9" fill="#a92960"/>
<circle cx="273.88" cy="663.94" r="2.9" fill="#9f2561"/>
<circle cx="277.56" cy="665.35" r="2.9" fill="#9f2561"/>
<circle cx="274.60" cy="672.76" r="2.9" fill="#ad2b5f"/>
<circle cx="271.76" cy="667.94" r="2.9" fill="#9f2561"/>
<circle cx="280.65" cy="657.05" r="2.9" fill="#9f2561"/>
<circle cx="269.31" cy="666.09" r="2.9" fill="#9f2561"/>
<rect x="262.21" y="677.29" width="3.7" height="3.7" fill="none" stroke="#9f2561" stroke-width="2.0"/>
<rect x="266.36" y="671.06" width="3.7" height="3.7" fill="none" stroke="#9f2561" stroke-width="2.0"/>
<rect x="273.21" y="680.40" width="3.7" height="3.7" fill="none" stroke="#b02d5e" stroke-width="2.0"/>
<rect x="283.37" y="655.49" width="3.7" height="3.7" fill="none" stroke="#9f2561" stroke-width="2.0"/>
<rect x="281.67" y="657.94" width="3.7" height="3.7" fill="none" stroke="#9f2561" stroke-width="2.0"/>
<circle cx="298.88" cy="638.06" r="2.7" fill="none" stroke="#ba335c" stroke-width="1.3"/>
<circle cx="292.20" cy="644.81" r="2.7" fill="none" stroke="#b02d5e" stroke-width="1.3"/>
<circle cx="282.00" cy="650.15" r="2.7" fill="none" stroke="#8c1e62" stroke-width="1.3"/>
<circle cx="274.64" cy="655.64" r="2.7" fill="none" stroke="#72195e" stroke-width="1.3"/>
<circle cx="271.68" cy="657.34" r="2.7" fill="none" stroke="#6b185c" stroke-width="1.3"/>
<circle cx="266.52" cy="659.94" r="2.7" fill="none" stroke="#67185b" stroke-width="1.3"/>
<circle cx="281.58" cy="663.87" r="2.7" fill="none" stroke="#9f2561" stroke-width="1.3"/>
<path d="M259.75,665.38L260.69,668.28L263.74,668.28L261.28,670.07L262.22,672.98L259.75,671.18L257.28,672.98L258.22,670.07L255.76,668.28L258.81,668.28Z" fill="none" stroke="#67185b" stroke-width="1.2"/>
<path d="M269.73,658.93L270.68,661.83L273.73,661.83L271.26,663.62L272.20,666.53L269.73,664.73L267.26,666.53L268.21,663.62L265.74,661.83L268.79,661.83Z" fill="none" stroke="#7a1a60" stroke-width="1.2"/>
<path d="M257.47,667.08L258.41,669.99L261.46,669.99L258.99,671.78L259.93,674.68L257.47,672.89L255.00,674.68L255.94,671.78L253.47,669.99L256.52,669.99Z" fill="none" stroke="#67185b" stroke-width="1.2"/>
<path d="M252.73,672.20L253.67,675.10L256.72,675.10L254.25,676.90L255.20,679.80L252.73,678.00L250.26,679.80L251.20,676.90L248.73,675.10L251.78,675.10Z" fill="none" stroke="#67185b" stroke-width="1.2"/>
<path d="M253.91,678.13L254.86,681.03L257.91,681.03L255.44,682.83L256.38,685.73L253.91,683.94L251.44,685.73L252.39,682.83L249.92,681.03L252.97,681.03Z" fill="none" stroke="#7a1a60" stroke-width="1.2"/>
<path d="M255.56,675.17L256.51,678.07L259.56,678.07L257.09,679.86L258.03,682.76L255.56,680.97L253.09,682.76L254.04,679.86L251.57,678.07L254.62,678.07Z" fill="none" stroke="#7a1a60" stroke-width="1.2"/>
<path d="M52.0,853.2 L296.2,635.2 M52.0,853.2 L259.1,688.0 L296.2,635.2" fill="none" stroke="#1a1a1a" stroke-width="0.95"/>
<path d="M52.01,849.23 L55.26,853.23 L52.01,857.23 L48.76,853.23 Z" fill="#000"/>
<path d="M296.16,631.24 L299.41,635.24 L296.16,639.24 L292.91,635.24 Z" fill="#000"/>
<path d="M259.12,683.96 L262.37,687.96 L259.12,691.96 L255.87,687.96 Z" fill="#000"/>
<rect x="325.5" y="624.2" width="11.0" height="229.3" fill="url(#gd)" stroke="#333" stroke-width="0.8"/>
<text x="341.5" y="831.3">7.5</text>
<text x="341.5" y="806.0">7.6</text>
<text x="341.5" y="780.6">7.7</text>
<text x="341.5" y="755.2">7.8</text>
<text x="341.5" y="729.8">7.9</text>
<text x="341.5" y="704.5">8.0</text>
<text x="341.5" y="679.1">8.1</text>
<text x="341.5" y="653.7">8.2</text>
<path d="M336.5,827.93 h-2.4 M336.5,802.56 h-2.4 M336.5,777.19 h-2.4 M336.5,751.82 h-2.4 M336.5,726.45 h-2.4 M336.5,701.07 h-2.4 M336.5,675.70 h-2.4 M336.5,650.33 h-2.4 " stroke="#333" stroke-width="0.8" fill="none"/>
<text x="331.6" y="619.0" text-anchor="middle">pH</text>
<polygon points="371.5,853.2 437.6,790.3 614.4,632.9 619.6,635.5 589.1,695.7" fill="#ebebeb"/>
<path d="M369.9,624.2 L369.9,853.3 L632.7,853.3" fill="none" stroke="#505050" stroke-width="0.9"/>
<path d="M369.90,853.3 v-3 M393.79,853.3 v-3 M417.68,853.3 v-3 M441.57,853.3 v-3 M465.46,853.3 v-3 M489.35,853.3 v-3 M513.25,853.3 v-3 M537.14,853.3 v-3 M561.03,853.3 v-3 M584.92,853.3 v-3 M608.81,853.3 v-3 M632.70,853.3 v-3 M369.9,853.30 h3 M369.9,807.48 h3 M369.9,761.66 h3 M369.9,715.84 h3 M369.9,670.02 h3 M369.9,624.20 h3 " stroke="#505050" stroke-width="0.9" fill="none"/>
<text x="368.4" y="866.2" text-anchor="middle">0</text>
<text x="418.4" y="867.5" text-anchor="middle">400</text>
<text x="466.5" y="867.5" text-anchor="middle">800</text>
<text x="514.6" y="867.5" text-anchor="middle">1200</text>
<text x="562.7" y="867.5" text-anchor="middle">1600</text>
<text x="610.8" y="867.5" text-anchor="middle">2000</text>
<text x="509.1" y="883.1" text-anchor="middle">Dissolved Inorganic Carbon (µmol kg<tspan font-size="6.8" dy="-3.6">-1</tspan><tspan dy="3.6">)</tspan></text>
<text x="377.3" y="634.9">(e)</text>
<path d="M500.50,744.68 L507.10,744.68 M501.47,742.35 L506.14,747.01 M503.80,741.38 L503.80,747.98 M506.14,742.35 L501.47,747.01 " fill="none" stroke="#571654" stroke-width="1.1"/>
<path d="M508.09,742.09 L514.69,742.09 M509.06,739.75 L513.73,744.42 M511.39,738.79 L511.39,745.39 M513.73,739.75 L509.06,744.42 " fill="none" stroke="#511552" stroke-width="1.1"/>
<path d="M512.76,736.67 L519.36,736.67 M513.73,734.34 L518.39,739.01 M516.06,733.37 L516.06,739.97 M518.39,734.34 L513.73,739.01 " fill="none" stroke="#4c154f" stroke-width="1.1"/>
<path d="M513.86,734.30 L520.46,734.30 M514.83,731.97 L519.50,736.63 M517.16,731.00 L517.16,737.60 M519.50,731.97 L514.83,736.63 " fill="none" stroke="#4c154f" stroke-width="1.1"/>
<path d="M531.80,724.59 L538.40,724.59 M532.77,722.26 L537.44,726.92 M535.10,721.29 L535.10,727.89 M537.44,722.26 L532.77,726.92 " fill="none" stroke="#541653" stroke-width="1.1"/>
<path d="M532.86,724.14 L539.46,724.14 M533.83,721.81 L538.50,726.48 M536.16,720.84 L536.16,727.44 M538.50,721.81 L533.83,726.48 " fill="none" stroke="#621759" stroke-width="1.1"/>
<path d="M536.17,724.96 L542.77,724.96 M537.14,722.63 L541.81,727.29 M539.47,721.66 L539.47,728.26 M541.81,722.63 L537.14,727.29 " fill="none" stroke="#f5a974" stroke-width="1.1"/>
<path d="M553.44,700.34 L560.04,700.34 M554.40,698.01 L559.07,702.68 M556.74,697.04 L556.74,703.64 M559.07,698.01 L554.40,702.68 " fill="none" stroke="#b22e5e" stroke-width="1.1"/>
<path d="M569.93,677.21 L576.53,677.21 M570.90,674.88 L575.57,679.55 M573.23,673.91 L573.23,680.51 M575.57,674.88 L570.90,679.55 " fill="none" stroke="#751a5f" stroke-width="1.1"/>
<path d="M571.08,681.81 L577.68,681.81 M572.05,679.48 L576.71,684.14 M574.38,678.51 L574.38,685.11 M576.71,679.48 L572.05,684.14 " fill="none" stroke="#751a5f" stroke-width="1.1"/>
<path d="M572.52,678.55 L579.12,678.55 M573.49,676.21 L578.16,680.88 M575.82,675.25 L575.82,681.85 M578.16,676.21 L573.49,680.88 " fill="none" stroke="#751a5f" stroke-width="1.1"/>
<path d="M480.94,766.26L481.84,769.03L484.75,769.03L482.39,770.74L483.29,773.50L480.94,771.79L478.59,773.50L479.49,770.74L477.14,769.03L480.04,769.03Z" fill="#e76f56"/>
<path d="M484.63,764.71L485.53,767.47L488.44,767.47L486.08,769.18L486.98,771.94L484.63,770.23L482.28,771.94L483.18,769.18L480.83,767.47L483.73,767.47Z" fill="#f7b77f"/>
<path d="M490.14,759.15L491.04,761.91L493.95,761.91L491.60,763.62L492.50,766.38L490.14,764.67L487.79,766.38L488.69,763.62L486.34,761.91L489.25,761.91Z" fill="#d64e54"/>
<path d="M491.08,757.66L491.98,760.43L494.88,760.43L492.53,762.14L493.43,764.90L491.08,763.19L488.73,764.90L489.62,762.14L487.27,760.43L490.18,760.43Z" fill="#d24955"/>
<path d="M504.57,740.76L505.46,743.52L508.37,743.52L506.02,745.23L506.92,748.00L504.57,746.29L502.21,748.00L503.11,745.23L500.76,743.52L503.67,743.52Z" fill="#541653"/>
<path d="M567.00,687.59 L570.50,693.99 L563.50,693.99 Z" fill="#70195e"/>
<path d="M570.69,675.43 L574.19,681.83 L567.19,681.83 Z" fill="#7d1b61"/>
<path d="M570.48,681.51 L573.98,687.91 L566.98,687.91 Z" fill="#831c62"/>
<path d="M578.92,673.50 L582.42,679.90 L575.42,679.90 Z" fill="#831c62"/>
<path d="M581.29,672.02 L584.79,678.42 L577.79,678.42 Z" fill="#831c62"/>
<path d="M577.94,680.91 L581.44,687.31 L574.44,687.31 Z" fill="#861d62"/>
<path d="M575.19,682.77 L578.69,689.17 L571.69,689.17 Z" fill="#831c62"/>
<path d="M576.46,678.69 L579.96,685.09 L572.96,685.09 Z" fill="#831c62"/>
<path d="M589.78,665.34 L593.28,671.74 L586.28,671.74 Z" fill="#801b61"/>
<path d="M611.37,644.73 L614.87,651.13 L607.87,651.13 Z" fill="#7d1b61"/>
<circle cx="560.98" cy="697.75" r="2.9" fill="#ab2a5f"/>
<circle cx="585.07" cy="666.54" r="2.9" fill="#a12561"/>
<circle cx="593.98" cy="663.94" r="2.9" fill="#831c62"/>
<circle cx="597.67" cy="665.35" r="2.9" fill="#861d62"/>
<circle cx="594.70" cy="672.76" r="2.9" fill="#a62860"/>
<circle cx="591.85" cy="667.94" r="2.9" fill="#831c62"/>
<circle cx="600.76" cy="657.05" r="2.9" fill="#7d1b61"/>
<circle cx="589.39" cy="666.09" r="2.9" fill="#831c62"/>
<rect x="582.29" y="677.29" width="3.7" height="3.7" fill="none" stroke="#7d1b61" stroke-width="2.0"/>
<rect x="586.44" y="671.06" width="3.7" height="3.7" fill="none" stroke="#7d1b61" stroke-width="2.0"/>
<rect x="593.31" y="680.40" width="3.7" height="3.7" fill="none" stroke="#ec7e5b" stroke-width="2.0"/>
<rect x="603.49" y="655.49" width="3.7" height="3.7" fill="none" stroke="#7d1b61" stroke-width="2.0"/>
<rect x="601.80" y="657.94" width="3.7" height="3.7" fill="none" stroke="#7d1b61" stroke-width="2.0"/>
<circle cx="619.04" cy="638.06" r="2.7" fill="none" stroke="#911f62" stroke-width="1.3"/>
<circle cx="612.34" cy="644.81" r="2.7" fill="none" stroke="#8b1e62" stroke-width="1.3"/>
<circle cx="602.12" cy="650.15" r="2.7" fill="none" stroke="#70195e" stroke-width="1.3"/>
<circle cx="594.74" cy="655.64" r="2.7" fill="none" stroke="#5f1758" stroke-width="1.3"/>
<circle cx="591.77" cy="657.34" r="2.7" fill="none" stroke="#5c1757" stroke-width="1.3"/>
<circle cx="586.60" cy="659.94" r="2.7" fill="none" stroke="#591656" stroke-width="1.3"/>
<circle cx="601.70" cy="663.87" r="2.7" fill="none" stroke="#831c62" stroke-width="1.3"/>
<path d="M579.81,665.38L580.75,668.28L583.80,668.28L581.34,670.07L582.28,672.98L579.81,671.18L577.34,672.98L578.28,670.07L575.81,668.28L578.87,668.28Z" fill="none" stroke="#541653" stroke-width="1.2"/>
<path d="M589.82,658.93L590.76,661.83L593.81,661.83L591.34,663.62L592.29,666.53L589.82,664.73L587.35,666.53L588.29,663.62L585.82,661.83L588.88,661.83Z" fill="none" stroke="#621759" stroke-width="1.2"/>
<path d="M577.52,667.08L578.46,669.99L581.51,669.99L579.04,671.78L579.99,674.68L577.52,672.89L575.05,674.68L575.99,671.78L573.52,669.99L576.58,669.99Z" fill="none" stroke="#541653" stroke-width="1.2"/>
<path d="M572.77,672.20L573.71,675.10L576.76,675.10L574.29,676.90L575.24,679.80L572.77,678.00L570.30,679.80L571.24,676.90L568.77,675.10L571.83,675.10Z" fill="none" stroke="#541653" stroke-width="1.2"/>
<path d="M573.96,678.13L574.90,681.03L577.95,681.03L575.48,682.83L576.42,685.73L573.96,683.94L571.49,685.73L572.43,682.83L569.96,681.03L573.01,681.03Z" fill="none" stroke="#621759" stroke-width="1.2"/>
<path d="M575.61,675.17L576.55,678.07L579.60,678.07L577.14,679.86L578.08,682.76L575.61,680.97L573.14,682.76L574.08,679.86L571.62,678.07L574.67,678.07Z" fill="none" stroke="#621759" stroke-width="1.2"/>
<path d="M371.5,853.2 L616.3,635.2 M371.5,853.2 L579.2,688.0 L616.3,635.2" fill="none" stroke="#1a1a1a" stroke-width="0.95"/>
<path d="M371.51,849.23 L374.76,853.23 L371.51,857.23 L368.26,853.23 Z" fill="#000"/>
<path d="M616.32,631.24 L619.57,635.24 L616.32,639.24 L613.07,635.24 Z" fill="#000"/>
<path d="M579.18,683.96 L582.43,687.96 L579.18,691.96 L575.93,687.96 Z" fill="#000"/>
<rect x="645.1" y="624.2" width="10.5" height="229.3" fill="url(#ge)" stroke="#333" stroke-width="0.8"/>
<text x="660.2" y="849.2">200</text>
<text x="660.2" y="812.0">400</text>
<text x="660.2" y="774.7">600</text>
<text x="660.2" y="737.5">800</text>
<text x="660.2" y="700.2">1000</text>
<text x="660.2" y="663.0">1200</text>
<path d="M655.6,845.85 h-2.4 M655.6,808.60 h-2.4 M655.6,771.35 h-2.4 M655.6,734.09 h-2.4 M655.6,696.84 h-2.4 M655.6,659.59 h-2.4 " stroke="#333" stroke-width="0.8" fill="none"/>
<text x="652.5" y="619.6" text-anchor="middle">pCO<tspan font-size="7" dy="3.1">2</tspan></text>
</svg>
</body></html>
